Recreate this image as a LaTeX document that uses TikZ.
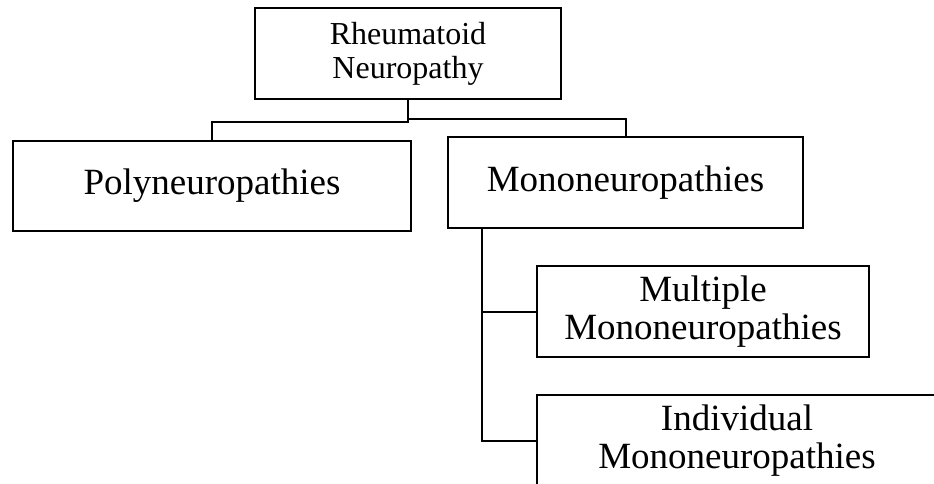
\documentclass[tikz,border=0pt]{standalone}
\usepackage{fontspec}
\setmainfont{Liberation Serif}
\usetikzlibrary{calc}

\begin{document}
\begin{tikzpicture}[x=1pt, y=-1pt,
  box/.style={draw=black, line width=2pt, align=center, inner sep=0pt,
    minimum height=91pt, font=\fontsize{37}{38.5}\selectfont},
  link/.style={draw=black, line width=2pt},
]
  \useasboundingbox (0,0) rectangle (934,484);
  \clip (0,0) rectangle (934,484);

  \node[box, minimum width=306pt, font=\fontsize{32}{34}\selectfont] (root) at (408,53.5) {Rheumatoid\\Neuropathy};
  \node[box, minimum width=398pt, minimum height=90pt] (poly) at (212,186) {Polyneuropathies};
  \node[box, minimum width=355pt] (mono) at (625.5,182.5) {Mononeuropathies};
  \node[box, minimum width=332pt] (multi) at (703,311.5) {Multiple\\Mononeuropathies};
  \node[box, minimum width=400pt] (indiv) at (737,440.5) {Individual\\Mononeuropathies};

  \draw[link] (root.south) -- ++(0,22) -| (poly.north);
  \draw[link] (root.south) -- ++(0,19) -| (mono.north);

  \coordinate (trunk) at ($(mono.south west)+(35,0)$);
  \draw[link] (trunk) |- (multi.west);
  \draw[link] (trunk) |- (indiv.west);
\end{tikzpicture}
\end{document}
